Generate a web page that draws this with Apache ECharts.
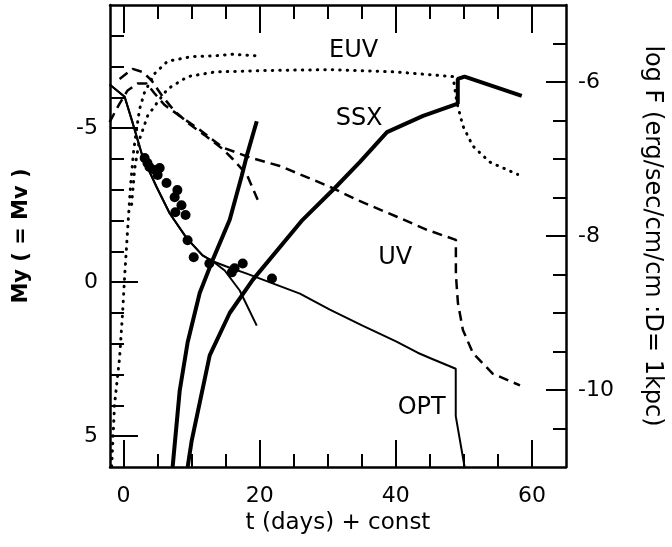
<!DOCTYPE html>
<html>
<head>
<meta charset="utf-8">
<script src="https://cdn.jsdelivr.net/npm/echarts@6/dist/echarts.min.js"></script>
<style>
  html, body { margin: 0; padding: 0; background: #fff; }
  #chart { width: 672px; height: 547px; }
</style>
</head>
<body>
<div id="chart"></div>
<script>
// Observed V magnitudes: [t (days), My]
const observedV = [
  [3.09, -4.03], [3.5, -3.87], [3.8, -3.74], [4.6, -3.64], [5.3, -3.71], [5.0, -3.48],
  [6.3, -3.22], [7.9, -2.99], [7.5, -2.76], [8.5, -2.50], [7.6, -2.27], [9.1, -2.18],
  [9.4, -1.36], [10.3, -0.81], [12.6, -0.61], [15.9, -0.32], [16.3, -0.45],
  [17.5, -0.61], [21.8, -0.12]
];

// Optical light curves (magnitudes): short-lived and long-lived models
const optShort = [
  [-2.06, -6.42], [0.15, -6.02], [1.32, -5.18], [2.79, -4.07], [4.85, -3.09], [6.76, -2.24],
  [9.26, -1.43], [11.6, -0.87], [13.1, -0.68], [14.85, -0.38], [17.06, 0.27], [19.56, 1.41]
];
const optLong = [
  [-2.06, -6.42], [0.15, -6.02], [1.32, -5.18], [2.79, -4.07], [4.85, -3.09], [6.76, -2.24],
  [9.26, -1.43], [11.6, -0.87], [13.1, -0.68], [15.1, -0.51], [18.1, -0.28], [21.9, 0.04],
  [25.9, 0.37], [30.3, 0.89], [35.1, 1.41], [40.1, 1.93], [43.2, 2.29], [45.0, 2.46],
  [48.8, 2.81], [48.8, 4.35], [50.1, 6.0]
];

// Supersoft X-ray flux, log F
const ssxShort = [
  [7.2, -11.0], [8.24, -10.01], [9.41, -9.38], [11.18, -8.74], [13.09, -8.31],
  [15.59, -7.79], [17.35, -7.22], [18.09, -6.96], [19.56, -6.51]
];
const ssxLong = [
  [9.41, -11.0], [10.0, -10.66], [12.65, -9.55], [15.59, -9.0], [18.97, -8.57],
  [26.3, -7.79], [31.0, -7.38], [34.7, -7.04], [38.7, -6.65], [44.0, -6.44],
  [49.1, -6.28], [49.1, -5.96], [50.1, -5.93], [58.5, -6.18]
];

// UV flux, log F
const uvShort = [
  [-0.59, -5.96], [1.32, -5.83], [2.79, -5.87], [4.12, -5.98], [5.74, -6.19], [7.5, -6.38],
  [9.71, -6.55], [11.9, -6.69], [14.56, -6.87], [16.03, -7.0], [18.09, -7.2], [19.7, -7.53]
];
const uvLong = [
  [-2.06, -6.52], [-0.59, -6.28], [0.59, -6.11], [2.06, -6.02], [3.38, -6.02], [4.56, -6.15],
  [6.03, -6.30], [8.24, -6.44], [11.18, -6.62], [14.56, -6.85], [18.53, -6.98], [22.94, -7.09],
  [30.29, -7.36], [34.26, -7.53], [40.15, -7.75], [44.56, -7.92], [48.82, -8.05],
  [48.82, -8.50], [49.12, -8.87], [49.85, -9.22], [51.32, -9.52], [54.26, -9.79], [58.24, -9.94]
];

// EUV flux, log F
const euvShort = [
  [-1.76, -10.99], [-1.32, -10.18], [-0.59, -9.58], [-0.15, -9.0], [0.15, -8.53], [0.59, -7.92],
  [1.03, -7.33], [1.47, -6.90], [1.91, -6.61], [2.35, -6.35], [3.09, -6.13], [4.56, -5.89],
  [6.47, -5.73], [10.0, -5.67], [13.4, -5.66], [16.0, -5.64], [19.56, -5.66]
];
const euvLong = [
  [1.18, -7.59], [1.62, -7.13], [2.35, -6.74], [3.53, -6.44], [5.0, -6.26], [6.47, -6.09],
  [9.41, -5.93], [13.4, -5.87], [21.0, -5.85], [30.7, -5.84], [40.1, -5.87], [48.4, -5.93],
  [49.0, -6.28], [49.85, -6.57], [51.3, -6.83], [53.8, -7.04], [57.9, -7.20]
];

// Tick values
const dayMajor = [0, 20, 40, 60];
const dayMinor = [5, 10, 15, 25, 30, 35, 45, 50, 55];
const magMajor = [-5, 0, 5];
const magMinor = [-8, -7, -6, -4, -3, -2, -1, 1, 2, 3, 4];
const fluxMajor = [-10, -8, -6];
const fluxMinor = [-10.5, -9.5, -9, -8.5, -7.5, -7, -6.5, -5.5];

// Band names, written next to their curves (t, log F)
const bandNames = ['EUV', 'SSX', 'UV', 'OPT'];
const bandNameAt = [[33.8, -5.60], [34.6, -6.48], [39.9, -8.28], [43.8, -10.23]];

const FONT = 'DejaVu Sans';
const INK = '#000';

function ticks(values, length) {
  return { show: true, inside: true, length, customValues: values, lineStyle: { color: INK, width: 2 } };
}
function labels(values, margin) {
  return { show: true, customValues: values, margin, color: INK, fontFamily: FONT, fontSize: 22 };
}
function axis(extra) {
  return Object.assign({
    type: 'value',
    splitLine: { show: false },
    axisLine: { show: false, onZero: false },
    axisLabel: { show: false }
  }, extra);
}
const frameLine = { show: true, onZero: false, lineStyle: { color: INK, width: 2.5 } };
const dayRange = { min: -2, max: 65 };
const magRange = { min: -9, max: 6, inverse: true };
const fluxRange = { min: -11, max: -5 };

function line(name, data, yIdx, lineStyle) {
  return {
    name, type: 'line', data, xAxisIndex: 0, yAxisIndex: yIdx,
    showSymbol: false, symbol: 'none', silent: true,
    lineStyle: Object.assign({ color: INK }, lineStyle)
  };
}
const thin = { width: 2 };
const thick = { width: 4 };
const dashed = { width: 2.5, type: [10, 6] };
const dotted = { width: 3, type: [0.5, 7], cap: 'round' };

const chart = echarts.init(document.getElementById('chart'), null, { renderer: 'canvas' });

chart.setOption({
  animation: false,
  backgroundColor: '#fff',
  grid: { left: 110, right: 105, top: 5, bottom: 80, containLabel: false },
  xAxis: [
    axis(Object.assign({
      position: 'bottom', axisLine: frameLine,
      axisTick: ticks(dayMajor, 27), axisLabel: labels(dayMajor, 18),
      name: 't (days) + const', nameLocation: 'middle', nameGap: 40,
      nameTextStyle: { color: INK, fontFamily: FONT, fontSize: 23 }
    }, dayRange)),
    axis(Object.assign({ position: 'bottom', axisTick: ticks(dayMinor, 13) }, dayRange)),
    axis(Object.assign({ position: 'top', axisLine: frameLine, axisTick: ticks(dayMajor, 28) }, dayRange)),
    axis(Object.assign({ position: 'top', axisTick: ticks(dayMinor, 14) }, dayRange))
  ],
  yAxis: [
    axis(Object.assign({
      position: 'left', axisLine: frameLine,
      axisTick: ticks(magMajor, 28), axisLabel: labels(magMajor, 12),
      name: 'My ( = Mv )', nameLocation: 'middle', nameGap: 78, nameRotate: 90,
      nameTextStyle: { color: INK, fontFamily: FONT, fontSize: 21, fontWeight: 'bold' }
    }, magRange)),
    axis(Object.assign({ position: 'left', axisTick: ticks(magMinor, 14) }, magRange)),
    axis(Object.assign({
      position: 'right', axisLine: frameLine,
      axisTick: ticks(fluxMajor, 20), axisLabel: labels(fluxMajor, 12),
      name: 'log F (erg/sec/cm/cm :D= 1kpc)', nameLocation: 'middle', nameGap: 74, nameRotate: -90,
      nameTextStyle: { color: INK, fontFamily: FONT, fontSize: 24 }
    }, fluxRange)),
    axis(Object.assign({ position: 'right', axisTick: ticks(fluxMinor, 13) }, fluxRange))
  ],
  series: [
    line('OPT short', optShort, 0, thin),
    line('OPT long', optLong, 0, thin),
    line('SSX short', ssxShort, 2, thick),
    line('SSX long', ssxLong, 2, thick),
    line('UV short', uvShort, 2, dashed),
    line('UV long', uvLong, 2, dashed),
    line('EUV short', euvShort, 2, dotted),
    line('EUV long', euvLong, 2, dotted),
    {
      name: 'V', type: 'scatter', data: observedV, xAxisIndex: 0, yAxisIndex: 0,
      symbol: 'circle', symbolSize: 10, itemStyle: { color: INK, opacity: 1 }, silent: true
    }
  ]
});

// Band names placed through the flux axis
chart.setOption({
  graphic: bandNames.map((name, i) => {
    const [px, py] = chart.convertToPixel({ xAxisIndex: 0, yAxisIndex: 2 }, bandNameAt[i]);
    return {
      type: 'text', x: px, y: py, silent: true,
      style: { text: name, fill: INK, font: '24px "DejaVu Sans"', align: 'center', verticalAlign: 'middle' }
    };
  })
});
</script>
</body>
</html>
